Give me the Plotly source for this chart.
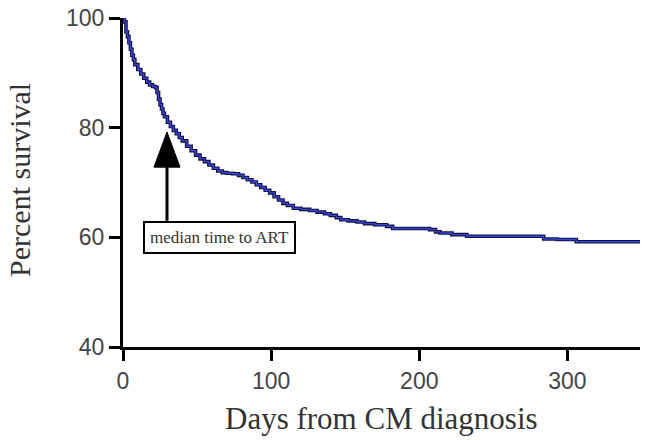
import plotly.graph_objects as go

# Kaplan-Meier style survival curve
days = [0, 1, 2, 3, 4, 5, 6, 7, 8, 10, 12, 14, 16, 18, 20, 22, 23, 24, 25, 26,
        27, 28, 30, 32, 34, 36, 38, 40, 43, 46, 49, 52, 55, 58, 61, 64, 67, 70,
        74, 78, 81, 84, 87, 90, 93, 96, 99, 102, 105, 108, 111, 115, 120, 126,
        131, 136, 140, 144, 147, 152, 158, 163, 170, 178, 182, 190, 200, 207,
        211, 214, 222, 232, 260, 284, 293, 306, 349]
survival = [100, 99.3, 97.5, 96.6, 95.5, 94.3, 93.2, 92.4, 91.5, 90.6, 89.8, 89.0,
            88.3, 87.8, 87.5, 87.3, 86.4, 85.2, 84.2, 83.4, 82.6, 82.0, 81.0, 80.2,
            79.5, 78.9, 78.2, 77.6, 76.6, 75.8, 75.0, 74.3, 73.8, 73.2, 72.6, 72.1,
            71.8, 71.7, 71.6, 71.3, 70.9, 70.5, 70.1, 69.6, 69.1, 68.6, 68.1, 67.4,
            66.8, 66.2, 65.8, 65.3, 65.1, 64.9, 64.6, 64.3, 64.0, 63.6, 63.2, 63.0,
            62.8, 62.5, 62.3, 62.0, 61.6, 61.6, 61.6, 61.4, 61.0, 60.8, 60.5, 60.2,
            60.2, 59.7, 59.6, 59.2, 59.2]

x_ticks = [0, 100, 200, 300]
y_ticks = [40, 60, 80, 100]

x_title = "Days from CM diagnosis"
y_title = "Percent survival"
note_text = "median time to ART"
median_art_day = 29.7

fig = go.Figure()
fig.add_trace(go.Scatter(x=days, y=survival, mode="lines",
                         line=dict(color="#10103a", width=3.6, shape="hv"),
                         hoverinfo="skip", showlegend=False))
fig.add_trace(go.Scatter(x=days, y=survival, mode="lines",
                         line=dict(color="#3a44d8", width=1.4, shape="hv"),
                         showlegend=False))

tick_font = dict(family="Liberation Sans, Arial, sans-serif", size=23, color="#444444")
serif = "Liberation Serif, Times New Roman, serif"

fig.update_layout(
    width=654, height=440,
    margin=dict(l=123, r=14, t=18, b=93, autoexpand=False),
    paper_bgcolor="white", plot_bgcolor="white",
    xaxis=dict(range=[0, 349], tickvals=x_ticks, showgrid=False, zeroline=False,
               showline=True, linecolor="black", linewidth=3, automargin=False,
               ticks="outside", ticklen=11, tickwidth=3, tickcolor="black",
               tickfont=tick_font),
    yaxis=dict(range=[40, 100], tickvals=y_ticks, showgrid=False, zeroline=False,
               showline=True, linecolor="black", linewidth=3, automargin=False,
               ticks="outside", ticklen=11, tickwidth=3, tickcolor="black",
               tickfont=tick_font),
)

# axis titles
fig.add_annotation(text=x_title, xref="paper", yref="paper", x=0.5, y=-0.216,
                   xanchor="center", yanchor="middle", showarrow=False,
                   font=dict(family=serif, size=31, color="#333333"))
fig.add_annotation(text=y_title, xref="paper", yref="paper", x=-0.199, y=0.508,
                   xanchor="center", yanchor="middle", showarrow=False, textangle=-90,
                   font=dict(family=serif, size=30, color="#333333"))

# boxed note
fig.add_annotation(text=note_text, x=65, y=59.9, xref="x", yref="y", showarrow=False,
                   font=dict(family=serif, size=17, color="#333333"),
                   bordercolor="black", borderwidth=2, borderpad=5, bgcolor="white")

# arrow pointing at median time to ART
fig.add_shape(type="line", x0=median_art_day, x1=median_art_day, y0=63.0, y1=73.5,
              xref="x", yref="y", line=dict(color="black", width=3))
fig.add_shape(type="path", xref="x", yref="y",
              path=f"M {median_art_day-8.8},72.8 L {median_art_day+8.8},72.8 L {median_art_day},79.2 Z",
              fillcolor="black", line=dict(color="black", width=1))

# remove the default 8px page margin so the figure sits at the window's corner
fig.write_html("out.html", config={"displayModeBar": False},
               post_script="document.body.style.margin='0';")
